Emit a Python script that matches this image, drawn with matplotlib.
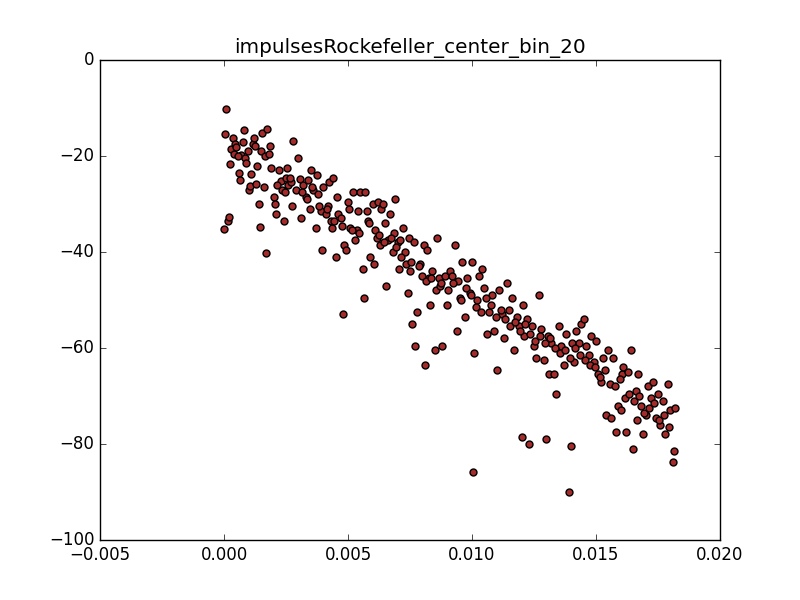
import matplotlib
matplotlib.use('Agg')
import matplotlib.pyplot as plt
import numpy as np

plt.style.use('classic')

# x values in units of 1e-3, y values
x_milli = [0.0, 0.05, 0.08, 0.15, 0.2, 0.25, 0.3, 0.35, 0.4, 0.45, 0.5, 0.6, 0.65, 0.7, 0.75, 0.8, 0.85, 0.9,
           1.0, 1.05, 1.1, 1.15, 1.2, 1.25, 1.3, 1.4, 1.45, 1.5, 1.55, 1.6, 1.65, 1.7, 1.75, 1.8, 1.85, 1.9,
           2.0, 2.05, 2.1, 2.2, 2.3, 2.35, 2.4, 2.5, 2.55, 2.6, 2.7, 2.75, 2.8, 2.9,
           3.0, 3.05, 3.1, 3.2, 3.3, 3.4, 3.45, 3.5, 3.6, 3.7, 3.75, 3.8, 3.9, 3.95,
           4.0, 4.1, 4.2, 4.25, 4.3, 4.35, 4.4, 4.5, 4.55, 4.6, 4.7, 4.8, 4.85, 4.9,
           5.0, 5.05, 5.1, 5.2, 5.3, 5.35, 5.4, 5.5, 5.6, 5.65, 5.7, 5.75, 5.8, 5.9,
           6.0, 6.05, 6.1, 6.15, 6.2, 6.3, 6.35, 6.4, 6.5, 6.55, 6.6, 6.7, 6.8, 6.85, 6.9,
           7.0, 7.05, 7.1, 7.2, 7.3, 7.4, 7.45, 7.5, 7.6, 7.65, 7.7, 7.8, 7.9,
           8.0, 8.05, 8.1, 8.2, 8.25, 8.3, 8.4, 8.5, 8.55, 8.6, 8.65, 8.7, 8.8, 8.9,
           9.0, 9.1, 9.2, 9.3, 9.4, 9.45, 9.5, 9.6, 9.7, 9.8, 9.9,
           10.0, 10.05, 10.1, 10.2, 10.3, 10.4, 10.5, 10.6, 10.7, 10.8, 10.9,
           11.0, 11.1, 11.2, 11.3, 11.4, 11.5, 11.6, 11.7, 11.8, 11.9,
           12.0, 12.05, 12.1, 12.2, 12.3, 12.4, 12.5, 12.6, 12.7, 12.8, 12.9,
           13.0, 13.05, 13.1, 13.2, 13.3, 13.4, 13.5, 13.6, 13.7, 13.8, 13.9,
           14.0, 14.05, 14.1, 14.2, 14.3, 14.4, 14.5, 14.6, 14.7, 14.8, 14.9,
           15.0, 15.1, 15.2, 15.3, 15.4, 15.5, 15.6, 15.7, 15.8, 15.9,
           16.0, 16.05, 16.1, 16.2, 16.3, 16.4, 16.5, 16.6, 16.65, 16.7, 16.8, 16.9,
           17.0, 17.1, 17.2, 17.3, 17.4, 17.5, 17.6, 17.7, 17.8, 17.9,
           18.0, 18.1, 18.15, 18.2,
           # extra points in the dense band
           0.55, 0.95, 1.35, 2.15, 2.45, 2.65, 3.15, 3.35, 3.55, 3.85, 4.15, 4.45, 4.75,
           5.15, 5.45, 5.85, 6.25, 6.45, 6.75, 6.95, 7.15, 7.35, 7.55, 7.85, 8.15, 8.35,
           8.75, 9.05, 9.25, 9.55, 9.75, 9.95, 10.15, 10.35, 10.55, 10.75, 10.95, 11.15,
           11.35, 11.55, 11.75, 11.95, 12.15, 12.35, 12.55, 12.75, 12.95, 13.15, 13.35,
           13.55, 13.75, 13.95, 14.15, 14.35, 14.55, 14.75, 14.95, 15.15, 15.35, 15.55,
           15.75, 15.95, 16.15, 16.35, 16.55, 16.75, 16.95, 17.15, 17.35, 17.55, 17.75, 17.95]
y_vals = [-35.2, -15.4, -10.3, -33.5, -32.8, -21.7, -18.5, -16.2, -19.5, -17.5, -18.2, -23.5, -25.0, -19.8, -17.0, -14.6, -20.5, -21.5,
          -27.0, -26.2, -23.8, -17.5, -16.3, -18.0, -25.8, -30.0, -34.8, -19.0, -15.2, -26.5, -20.0, -40.2, -14.4, -19.5, -18.0, -22.5,
          -28.5, -30.0, -32.0, -23.0, -25.3, -27.0, -33.5, -24.5, -22.5, -26.0, -25.5, -30.5, -16.8, -27.0,
          -20.5, -24.8, -33.0, -26.0, -28.5, -25.0, -31.0, -23.0, -27.0, -35.0, -24.0, -28.0, -31.5, -39.5,
          -26.5, -32.0, -30.5, -25.5, -33.5, -35.0, -24.5, -41.0, -28.5, -32.0, -33.0, -53.0, -38.5, -39.5,
          -29.5, -31.0, -35.0, -27.5, -37.5, -35.5, -31.5, -27.5, -43.5, -49.5, -27.5, -31.5, -33.5, -41.0,
          -30.0, -42.5, -35.5, -37.0, -29.5, -38.5, -31.0, -30.0, -34.0, -47.0, -37.5, -32.0, -40.0, -36.0, -29.0,
          -38.0, -43.5, -37.5, -35.0, -40.0, -48.5, -37.0, -44.0, -55.0, -38.0, -59.5, -52.5, -42.5,
          -45.0, -38.5, -63.5, -39.5, -45.5, -51.0, -44.0, -60.5, -48.0, -37.0, -45.5, -47.0, -59.5, -45.0,
          -51.0, -44.0, -45.0, -38.5, -56.5, -46.0, -49.5, -42.0, -53.5, -45.5, -48.5,
          -42.0, -85.8, -61.0, -50.0, -45.0, -43.5, -47.5, -57.0, -52.5, -49.0, -56.5,
          -64.5, -48.0, -53.0, -58.0, -46.5, -52.0, -49.5, -60.5, -53.5, -55.5,
          -78.5, -51.0, -57.5, -54.0, -80.0, -55.5, -59.5, -62.0, -49.0, -56.0, -62.5,
          -79.0, -57.5, -65.5, -59.0, -65.5, -69.5, -55.5, -59.5, -63.5, -57.0, -90.0,
          -80.5, -59.0, -63.0, -56.5, -59.0, -55.0, -54.0, -59.5, -61.5, -57.5, -63.0,
          -58.5, -65.5, -67.0, -62.0, -74.0, -60.5, -74.5, -62.0, -77.5, -72.0,
          -73.0, -65.5, -64.0, -77.5, -65.0, -60.5, -81.0, -69.0, -75.0, -65.5, -72.0, -78.0,
          -74.0, -68.0, -70.5, -67.0, -74.5, -69.5, -76.0, -71.0, -78.0, -67.5,
          -73.0, -83.8, -81.5, -72.5,
          -20.0, -19.0, -22.0, -26.0, -27.5, -24.5, -27.5, -29.0, -26.5, -30.5, -31.0, -33.5, -34.5,
          -35.5, -36.0, -34.0, -36.5, -38.0, -37.0, -39.0, -41.0, -42.5, -42.0, -43.0, -46.0, -45.5,
          -46.5, -48.0, -46.5, -50.0, -47.5, -49.0, -51.5, -52.5, -49.5, -51.0, -53.5, -52.0,
          -54.0, -55.5, -54.5, -56.5, -55.0, -57.0, -58.5, -57.5, -59.0, -58.0, -60.0,
          -61.0, -60.5, -62.0, -60.0, -61.5, -62.5, -63.5, -64.0, -66.0, -64.5, -67.5,
          -68.0, -66.5, -70.5, -69.5, -71.0, -70.0, -73.5, -72.5, -71.5, -75.0, -74.0, -76.5]

x = np.array(x_milli) / 1000.0
y = np.array(y_vals)

fig = plt.figure(figsize=(8, 6), dpi=100)
ax = fig.add_subplot(111)
ax.scatter(x, y, s=25, c='#a52a2a', edgecolors='black', linewidths=1)
ax.set_xlim(-0.005, 0.020)
ax.set_ylim(-100, 0)
ax.set_title('impulsesRockefeller_center_bin_20')
fig.savefig('out.png', dpi=100)
